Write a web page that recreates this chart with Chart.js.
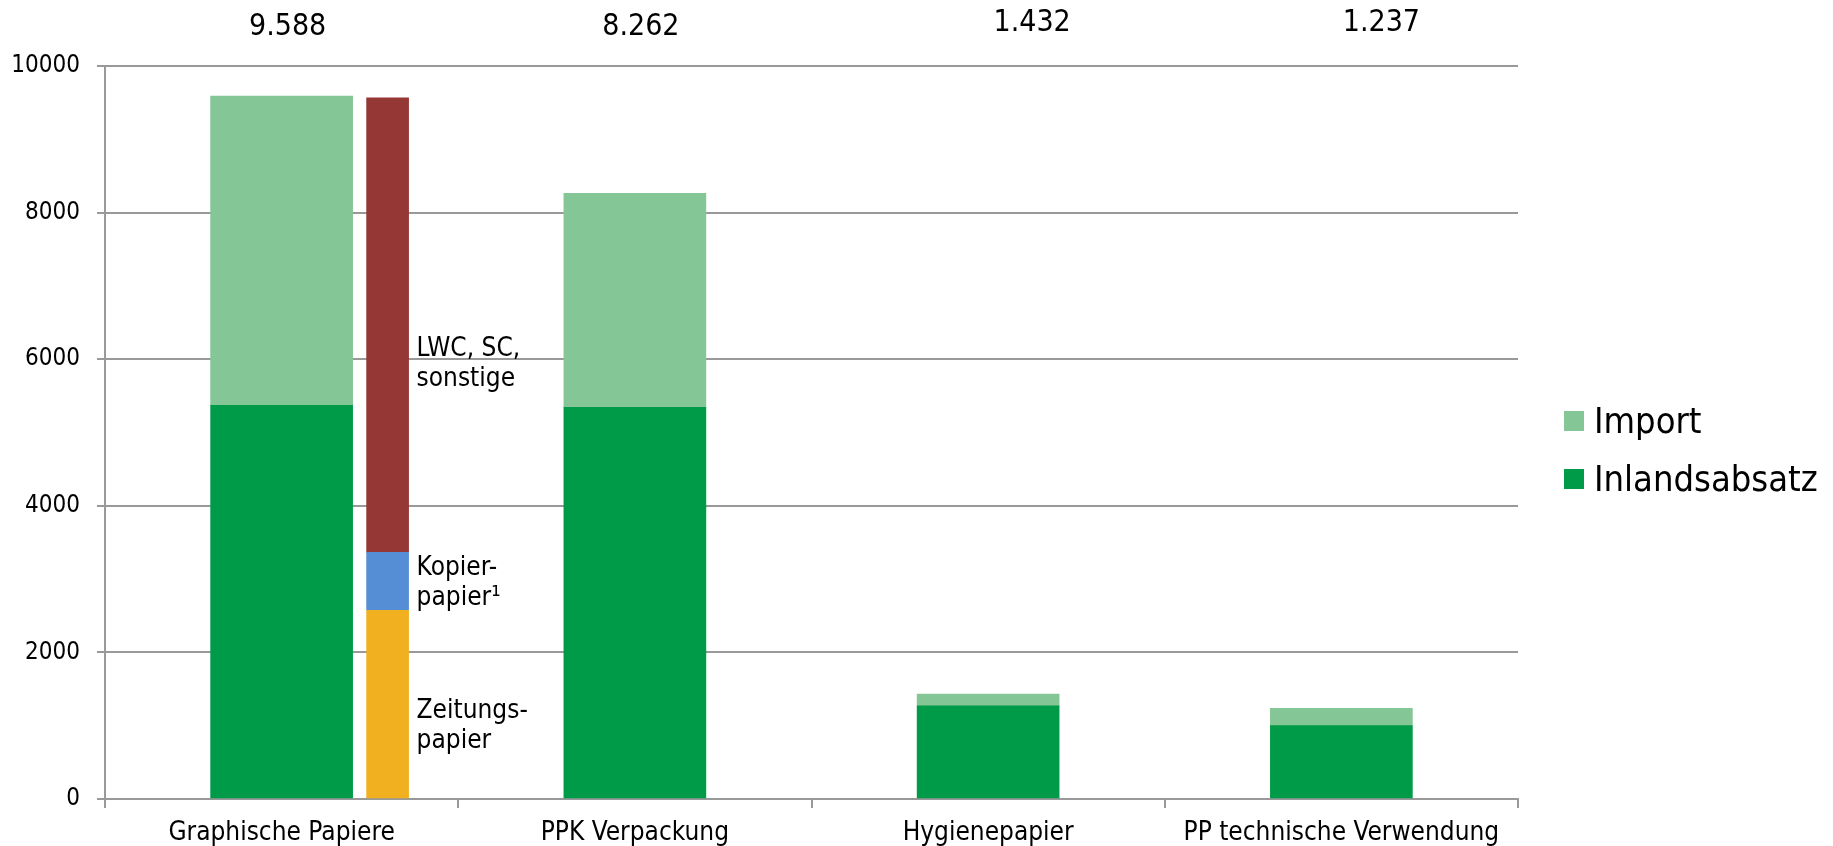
<!DOCTYPE html>
<html lang="de">
<head>
<meta charset="utf-8">
<title>Papierverbrauch nach Sorten</title>
<script src="https://cdn.jsdelivr.net/npm/chart.js@4.4.1/dist/chart.umd.min.js"></script>
<style>
  html, body { margin: 0; padding: 0; background: #ffffff; }
  #wrap { width: 1833px; height: 846px; position: relative; }
</style>
</head>
<body>
<div id="wrap"><canvas id="chart" width="1833" height="846"></canvas></div>
<script>
// Kategorien und Mengen (in 1000 t)
const categories = ['Graphische Papiere', 'PPK Verpackung', 'Hygienepapier', 'PP technische Verwendung'];
const inlandsabsatz = [5370, 5345, 1270, 1000];
const importMengen = [4218, 2917, 162, 237];

// Aufteilung der graphischen Papiere nach Sorten
const zeitungspapier = [2575];
const kopierpapier = [790];
const lwcSonstige = [6200];
const sortenLabels = [['Zeitungs-', 'papier'], ['Kopier-', 'papier\u00B9'], ['LWC, SC,', 'sonstige']];

const yTicks = [0, 2000, 4000, 6000, 8000, 10000];

// Darstellung
const FONT = '"DejaVu Sans Condensed", "DejaVu Sans", sans-serif';
const TEXT = '#000000';
const GRID = '#999999';
const COLORS = {
  inland: '#009B48',
  import: '#85C696',
  zeitung: '#F0B020',
  kopier: '#558ED5',
  lwc: '#953735'
};
const MAIN_WIDTH = 142;                // Balkenbreite in px
const SORT_WIDTH = 42;
const DETAIL_SHIFT = 0.3;              // Sortenbalken rechts neben dem Hauptbalken
const totalShift = [[6, 35], [6, 35], [44, 31], [40, 31]];   // [dx, Grundlinie] der Summen
const noteShift = [14, -6, 31];        // erste Grundlinie relativ zur Segmentmitte
const NOTE_LINE = 30;

const fmt = v => String(v).replace(/\B(?=(\d{3})+(?!\d))/g, '.');

const annotations = {
  id: 'annotations',
  afterDatasetsDraw(chart) {
    const { ctx, chartArea } = chart;
    const x = chart.scales.x;
    ctx.save();
    ctx.fillStyle = TEXT;

    // Summen über den Kategorien
    ctx.font = `30px ${FONT}`;
    ctx.textAlign = 'center';
    ctx.textBaseline = 'alphabetic';
    categories.forEach((c, i) => {
      const total = inlandsabsatz[i] + importMengen[i];
      ctx.fillText(fmt(total), x.getPixelForValue(i) + totalShift[i][0], totalShift[i][1]);
    });

    // Beschriftung der Sortensegmente
    ctx.font = `26px ${FONT}`;
    ctx.textAlign = 'left';
    [2, 3, 4].forEach((di, k) => {
      const el = chart.getDatasetMeta(di).data[0];
      if (!el) return;
      const mid = (el.y + el.base) / 2;
      const left = el.x + el.width / 2 + 8;
      sortenLabels[k].forEach((line, j) => {
        ctx.fillText(line, left, mid + noteShift[k] + j * NOTE_LINE);
      });
    });

    // Legende
    ctx.font = `36px ${FONT}`;
    const lx = chartArea.right + 46;
    [1, 0].forEach((di, r) => {
      const ds = chart.data.datasets[di];
      const cy = 421 + r * 58;
      ctx.fillStyle = ds.backgroundColor;
      ctx.fillRect(lx, cy - 10, 20, 20);
      ctx.fillStyle = TEXT;
      ctx.fillText(ds.label, lx + 30, cy + 12);
    });
    ctx.restore();
  }
};

const mainBar = { grouped: false, barThickness: MAIN_WIDTH, maxBarThickness: MAIN_WIDTH, borderWidth: 0, stack: 'gesamt' };
const sortBar = { xAxisID: 'x2', grouped: false, barThickness: SORT_WIDTH, maxBarThickness: SORT_WIDTH, borderWidth: 0, stack: 'sorten' };
const toPoints = arr => arr.map((v, i) => ({ x: i + DETAIL_SHIFT, y: v }));

new Chart(document.getElementById('chart'), {
  type: 'bar',
  data: {
    labels: categories,
    datasets: [
      Object.assign({ label: 'Inlandsabsatz', data: inlandsabsatz, backgroundColor: COLORS.inland }, mainBar),
      Object.assign({ label: 'Import', data: importMengen, backgroundColor: COLORS.import }, mainBar),
      Object.assign({ label: 'Zeitungspapier', data: toPoints(zeitungspapier), backgroundColor: COLORS.zeitung }, sortBar),
      Object.assign({ label: 'Kopierpapier', data: toPoints(kopierpapier), backgroundColor: COLORS.kopier }, sortBar),
      Object.assign({ label: 'LWC, SC, sonstige', data: toPoints(lwcSonstige), backgroundColor: COLORS.lwc }, sortBar)
    ]
  },
  options: {
    responsive: false,
    animation: false,
    devicePixelRatio: 1,
    layout: { padding: { top: 66, right: 315, bottom: 0, left: 0 } },
    plugins: { legend: { display: false }, tooltip: { enabled: false } },
    scales: {
      x: {
        type: 'category',
        stacked: true,
        offset: true,
        grid: { offset: true, drawOnChartArea: false, drawTicks: true, tickLength: 9, color: GRID, lineWidth: 2 },
        border: { display: true, color: GRID, width: 2 },
        ticks: { font: { family: FONT, size: 26 }, color: TEXT, padding: 10, maxRotation: 0, autoSkip: false },
        afterFit: s => { s.height = 47; }
      },
      x2: {
        type: 'linear',
        stacked: true,
        display: false,
        min: -0.5,
        max: categories.length - 0.5,
        offset: false
      },
      y: {
        stacked: true,
        min: 0,
        max: 10000,
        border: { display: true, color: GRID, width: 2 },
        grid: { color: GRID, lineWidth: 2, drawTicks: true, tickLength: 8 },
        ticks: { font: { family: FONT, size: 24 }, color: TEXT, padding: 17, callback: v => String(v) },
        afterBuildTicks: s => { s.ticks = yTicks.map(v => ({ value: v })); },
        afterFit: s => { s.width = 105; }
      }
    }
  },
  plugins: [annotations]
});
</script>
</body>
</html>
